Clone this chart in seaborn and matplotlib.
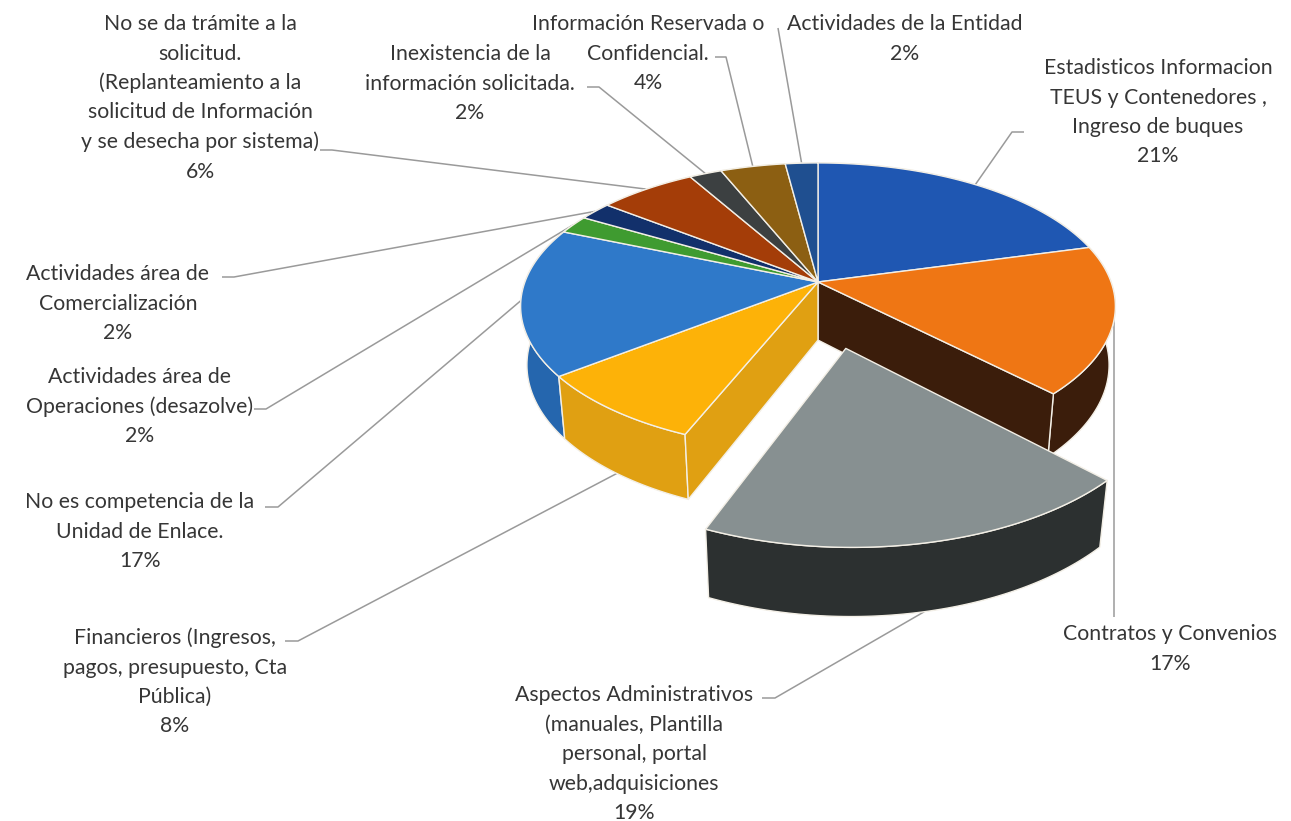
import numpy as np
import matplotlib
matplotlib.use("Agg")
import matplotlib.pyplot as plt
from matplotlib.patches import Polygon
import seaborn as sns


CATEGORIES = [
    "Estadisticos Informacion\nTEUS y Contenedores ,\nIngreso de buques",
    "Contratos y Convenios",
    "Aspectos Administrativos\n(manuales, Plantilla\npersonal, portal\nweb,adquisiciones",
    "Financieros (Ingresos,\npagos, presupuesto, Cta\nPública)",
    "No es competencia de la\nUnidad de Enlace.",
    "Actividades área de\nOperaciones (desazolve)",
    "Actividades área de\nComercialización",
    "No se da trámite a la\nsolicitud.\n(Replanteamiento a la\nsolicitud de Información\ny se desecha por sistema)",
    "Inexistencia de la\ninformación solicitada.",
    "Información Reservada o\nConfidencial.",
    "Actividades de la Entidad",
]
COUNTS = [10, 8, 9, 4, 8, 1, 1, 3, 1, 2, 1]
EXPLODED = [False, False, True, False, False, False, False, False, False, False, False]

TOP_COLORS = ["#1f57b2", "#ef7614", "#879091", "#fdb208", "#2f79c9", "#3f9b30",
              "#12306b", "#a43d08", "#3c4041", "#8c5f12", "#1f4f90"]
WALL_COLORS = ["#173f88", "#3b1d0b", "#2c3030", "#e0a012", "#2566ae", "#2f7a25",
               "#0c2250", "#7a2d06", "#2c2f30", "#6a470d", "#173b6c"]

# label layout in pixels: centre x, first line y, leader start, elbow length
LABEL_XY = [(1158, 66), (1170, 632), (634, 693), (175, 636), (140, 500), (140, 375),
            (118, 272), (200, 22), (470, 52), (648, 22), (905, 22)]
LEADER_START = [(1024, 132), (None, 617), (762, 698), (285, 641), (265, 507), (254, 409),
                (222, 277), (320, 150), (587, 87), (715, 57), (778, 28)]
ELBOW = [-12, 0, 13, 13, 13, 12, 12, 12, 12, 11, 0]

LINE_H = 29.5
TEXT_COLOR = "#363636"
LEADER_COLOR = "#9a9a9a"

# simple perspective camera for the 3d pie (pixel space)
CX, CY = 818, 282
F, D = 1524.0, 5.2
SIN_E, COS_E = 0.475, 0.88
H = 0.23
EXPLODE = 0.45


def project(x, y, z):
    x, y, z = np.broadcast_arrays(np.asarray(x, float), np.asarray(y, float), np.asarray(z, float))
    d = D + y * COS_E - z * SIN_E
    u = y * SIN_E + z * COS_E
    return np.column_stack([CX + F * x / d, CY - F * u / d])


def rim(t0, t1, z, off, n=80):
    ts = np.linspace(t0, t1, n)
    return project(np.sin(ts) + off[0], np.cos(ts) + off[1], z)


def main() -> None:
    sns.set_theme(style="white")
    plt.rcParams["font.family"] = ["Lato", "DejaVu Sans"]

    fig = plt.figure(figsize=(12.91, 8.21), dpi=100)
    ax = fig.add_axes([0, 0, 1, 1])
    ax.set_xlim(0, 1291)
    ax.set_ylim(821, 0)
    ax.axis("off")

    total = sum(COUNTS)
    edges = np.concatenate([[0], np.cumsum(COUNTS)]) / total * 2 * np.pi
    mids = (edges[:-1] + edges[1:]) / 2
    offs = [(EXPLODE * np.sin(m), EXPLODE * np.cos(m)) if ex else (0.0, 0.0)
            for m, ex in zip(mids, EXPLODED)]
    n = len(COUNTS)
    edge_kw = dict(edgecolor="#f3efe6", linewidth=1.0, joinstyle="round")

    # main body walls, back to front
    for i in sorted(range(n), key=lambda k: -np.cos(mids[k])):
        if EXPLODED[i]:
            continue
        t0, t1 = edges[i], edges[i + 1]
        poly = np.vstack([rim(t0, t1, 0, offs[i]), rim(t1, t0, -H, offs[i])])
        ax.add_patch(Polygon(poly, closed=True, facecolor=WALL_COLORS[i], zorder=2, **edge_kw))

    # cut faces next to the exploded slice
    for i in range(n):
        if EXPLODED[i]:
            continue
        for j, t in ((i + 1, edges[i + 1]), (i - 1, edges[i])):
            if EXPLODED[j % n]:
                c0 = project(0, 0, 0)[0]
                c1 = project(0, 0, -H)[0]
                r0 = project(np.sin(t), np.cos(t), 0)[0]
                r1 = project(np.sin(t), np.cos(t), -H)[0]
                ax.add_patch(Polygon([c0, r0, r1, c1], closed=True,
                                     facecolor=WALL_COLORS[i], zorder=3, **edge_kw))

    # top faces (exploded slice last, with its own wall)
    for i in range(n):
        t0, t1 = edges[i], edges[i + 1]
        apex = project(offs[i][0], offs[i][1], 0)
        top = np.vstack([apex, rim(t0, t1, 0, offs[i])])
        z = 6 if EXPLODED[i] else 4
        if EXPLODED[i]:
            wall = np.vstack([rim(t0, t1, 0, offs[i]), rim(t1, t0, -H, offs[i])])
            ax.add_patch(Polygon(wall, closed=True, facecolor=WALL_COLORS[i], zorder=5, **edge_kw))
        ax.add_patch(Polygon(top, closed=True, facecolor=TOP_COLORS[i], zorder=z, **edge_kw))

    # labels and leader lines
    for i, name in enumerate(CATEGORIES):
        pct = f"{round(100 * COUNTS[i] / total)}%"
        lines = name.split("\n") + [pct]
        x, y0 = LABEL_XY[i]
        for k, line in enumerate(lines):
            ax.text(x, y0 + k * LINE_H, line, ha="center", va="center_baseline",
                    fontsize=15.3, color=TEXT_COLOR, zorder=8)

        m = mids[i]
        z = -H if np.cos(m) < -0.5 else 0
        anchor = project(np.sin(m) + offs[i][0], np.cos(m) + offs[i][1], z)[0]
        sx, sy = LEADER_START[i]
        if sx is None:
            sx = anchor[0]
        pts = np.array([(sx, sy), (sx + ELBOW[i], sy), anchor])
        ax.plot(pts[:, 0], pts[:, 1], color=LEADER_COLOR, lw=1.1, zorder=1,
                solid_capstyle="butt")

    fig.savefig("out.png", dpi=100)
    plt.close(fig)


if __name__ == "__main__":
    main()
